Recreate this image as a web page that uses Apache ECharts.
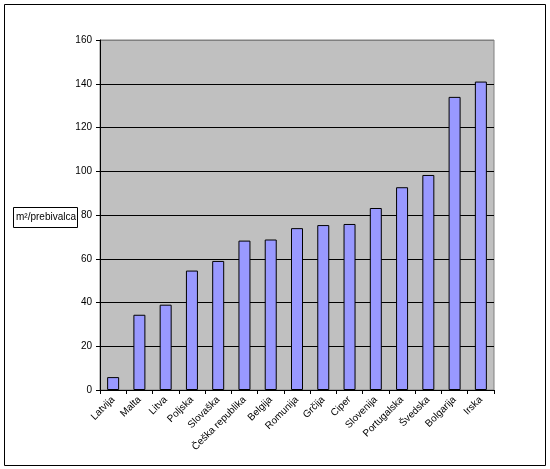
<!DOCTYPE html>
<html>
<head>
<meta charset="utf-8">
<script src="https://cdn.jsdelivr.net/npm/echarts@6/dist/echarts.min.js"></script>
<style>
	html, body { margin: 0; padding: 0; background: #fff; }
	#chart { width: 550px; height: 469px; }
</style>
</head>
<body>
<div id="chart"></div>
<script>
var countries = ['Latvija', 'Malta', 'Litva', 'Poljska', 'Slovaška', 'Češka republika', 'Belgija',
	'Romunija', 'Grčija', 'Ciper', 'Slovenija', 'Portugalska', 'Švedska', 'Bolgarija', 'Irska'];
var area = [5.9, 34.4, 39, 54.6, 59, 68.3, 68.8, 74, 75.4, 75.9, 83.2, 92.7, 98.3, 134, 141];
var yTicks = [0, 20, 40, 60, 80, 100, 120, 140, 160];

// black gridlines, except the top one which blends with the grey plot border
var gridColors = yTicks.map(function (v, i) {
	return i === yTicks.length - 1 ? '#808080' : '#000';
});

var myChart = echarts.init(document.getElementById('chart'));
var option = {
	backgroundColor: '#fff',
	animation: false,
	textStyle: { fontFamily: 'Liberation Sans, Arial, sans-serif' },
	graphic: [
		{
			type: 'rect',
			shape: { x: 4.5, y: 4.5, width: 541, height: 461 },
			style: { fill: 'none', stroke: '#000', lineWidth: 1 }
		},
		{
			type: 'rect',
			shape: { x: 13.5, y: 207.5, width: 64, height: 20 },
			style: { fill: '#fff', stroke: '#000', lineWidth: 1 }
		},
		{
			type: 'text',
			left: 16,
			top: 212,
			style: { text: 'm²/prebivalca', fontSize: 10, fill: '#000', fontFamily: 'Liberation Sans, Arial, sans-serif' }
		}
	],
	grid: {
		left: 100,
		right: 56,
		top: 40,
		bottom: 79,
		show: true,
		backgroundColor: '#c0c0c0',
		borderColor: '#808080',
		borderWidth: 1
	},
	xAxis: {
		type: 'category',
		data: countries,
		axisLine: { lineStyle: { color: '#000' } },
		axisTick: { show: true, alignWithLabel: false, length: 4, lineStyle: { color: '#000' } },
		axisLabel: { rotate: 45, fontSize: 10, color: '#000', margin: 8, interval: 0 }
	},
	yAxis: {
		type: 'value',
		min: 0,
		max: yTicks[yTicks.length - 1],
		interval: 20,
		axisLine: { show: true, lineStyle: { color: '#000' } },
		axisTick: { show: true, length: 4, lineStyle: { color: '#000' } },
		axisLabel: { fontSize: 10, color: '#000', margin: 8 },
		splitLine: { show: true, lineStyle: { color: gridColors, width: 1 } }
	},
	series: [
		{
			type: 'bar',
			data: area,
			barWidth: 12,
			itemStyle: { color: '#9999ff', borderColor: '#000', borderWidth: 1 }
		}
	]
};
myChart.setOption(option);
</script>
</body>
</html>
